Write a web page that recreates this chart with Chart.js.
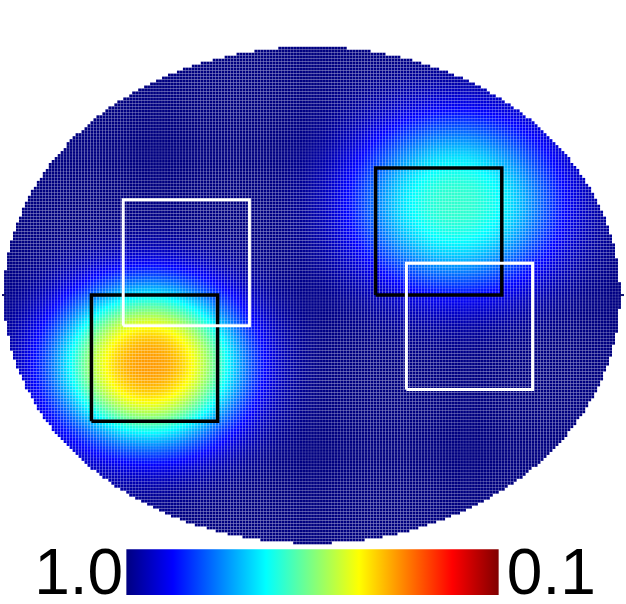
<!DOCTYPE html>
<html>
<head>
<meta charset="utf-8">
<script src="https://cdn.jsdelivr.net/npm/chart.js@4"></script>
<style>
  body { margin: 0; background: #fff; }
  #wrap { width: 626px; height: 604px; position: relative; }
</style>
</head>
<body>
<div id="wrap"><canvas id="myChart"></canvas></div>
<script>
// domain: ellipse with these half axes (data units)
const domainRx = 3.1;
const domainRy = 2.5;
const cellStep = 0.03;

// the two low spots (value at centre, on the 1.0 -> 0.1 bar)
const blobX = [-1.64, 1.45];
const blobY = [-0.70, 0.92];
const blobPeak = [0.35, 0.62];
const blobSpreadX = [0.66, 0.72];
const blobSpreadY = [0.57, 0.62];
const blobSharpness = 1.25;

// squares: [xmin, xmax, ymin, ymax]
const blackBoxes = [[-2.22, -0.95, -1.27, 0.0], [0.64, 1.91, 0.0, 1.28]];
const whiteBoxes = [[-1.90, -0.63, -0.31, 0.96], [0.95, 2.22, -0.95, 0.32]];

// colour bar
const barTicks = ['1.0', '0.1'];
const barX = [-1.87, 1.88];
const barY = [-2.56, -3.02];

function jet(t) {
    const c = v => Math.round(255 * Math.max(0, Math.min(1, v)));
    return `rgb(${c(1.5 - Math.abs(4 * t - 3))},${c(1.5 - Math.abs(4 * t - 2))},${c(1.5 - Math.abs(4 * t - 1))})`;
}

function valueAt(x, y) {
    let v = 1;
    for (let k = 0; k < blobX.length; k++) {
        const dx = (x - blobX[k]) / blobSpreadX[k];
        const dy = (y - blobY[k]) / blobSpreadY[k];
        v -= (1 - blobPeak[k]) * Math.exp(-Math.pow((dx * dx + dy * dy) / 2, blobSharpness));
    }
    return v;
}

const cells = [];
const cellColors = [];
const nx = Math.ceil(2 * domainRx / cellStep);
const ny = Math.ceil(2 * domainRy / cellStep);
for (let j = 0; j < ny; j++) {
    const y = domainRy - cellStep / 2 - j * cellStep;
    for (let i = 0; i < nx; i++) {
        const x = -domainRx + cellStep / 2 + i * cellStep;
        if ((x / domainRx) ** 2 + (y / domainRy) ** 2 > 1) continue;
        cells.push({ x, y });
        cellColors.push(jet((1 - valueAt(x, y)) / 0.9));
    }
}

function boxPath(b) {
    return [
        { x: b[0], y: b[2] }, { x: b[1], y: b[2] }, { x: b[1], y: b[3] },
        { x: b[0], y: b[3] }, { x: b[0], y: b[2] }
    ];
}

const boxSets = [];
blackBoxes.forEach(b => boxSets.push({
    data: boxPath(b), showLine: true, borderColor: '#000', borderWidth: 3.5,
    borderJoinStyle: 'miter', pointRadius: 0, order: 1
}));
whiteBoxes.forEach(b => boxSets.push({
    data: boxPath(b), showLine: true, borderColor: '#fff', borderWidth: 3,
    borderJoinStyle: 'miter', pointRadius: 0, order: 0
}));

function barGradient(c) {
    const x = c.chart.scales.x;
    const x0 = x ? x.getPixelForValue(barX[0]) : NaN;
    const x1 = x ? x.getPixelForValue(barX[1]) : NaN;
    if (!isFinite(x0) || !isFinite(x1)) return jet(0.5);
    const g = c.chart.ctx.createLinearGradient(x0, 0, x1, 0);
    [0, 1 / 8, 3 / 8, 5 / 8, 7 / 8, 1].forEach(t => g.addColorStop(t, jet(t)));
    return g;
}

const barLabels = {
    id: 'barLabels',
    afterDraw(chart) {
        const { ctx, scales } = chart;
        const left = scales.x.getPixelForValue(barX[0]);
        const right = scales.x.getPixelForValue(barX[1]);
        const base = scales.y.getPixelForValue(barY[1]) - 1;
        ctx.save();
        ctx.fillStyle = '#000';
        ctx.font = "64px 'Liberation Sans', Arial, sans-serif";
        ctx.textBaseline = 'alphabetic';
        ctx.textAlign = 'right';
        ctx.fillText(barTicks[0], left - 3, base);
        ctx.textAlign = 'left';
        ctx.fillText(barTicks[1], right + 8, base);
        ctx.restore();
    }
};

const ctx = document.getElementById('myChart').getContext('2d');
const myChart = new Chart(ctx, {
    type: 'scatter',
    data: {
        datasets: [
            ...boxSets,
            {
                type: 'line',
                data: [{ x: barX[0], y: barY[0] }, { x: barX[1], y: barY[0] }],
                borderWidth: 0,
                pointRadius: 0,
                fill: { value: barY[1] },
                backgroundColor: barGradient,
                order: 5
            },
            {
                data: cells,
                pointStyle: 'rect',
                pointRadius: 2.0,
                pointBorderWidth: 0,
                pointBackgroundColor: cellColors,
                pointHoverRadius: 0,
                order: 10
            },
            {
                data: [{ x: -3.12, y: 0 }, { x: -3.08, y: 0 }],
                showLine: true, borderColor: '#101070', borderWidth: 2, pointRadius: 0, order: 2
            },
            {
                data: [{ x: 3.1, y: 0 }, { x: 3.14, y: 0 }],
                showLine: true, borderColor: '#101070', borderWidth: 2, pointRadius: 0, order: 2
            }
        ]
    },
    options: {
        responsive: true,
        maintainAspectRatio: false,
        animation: false,
        events: [],
        layout: { padding: 0 },
        scales: {
            x: { type: 'linear', min: -3.12, max: 3.14, display: false },
            y: { type: 'linear', min: -3.09, max: 2.95, display: false }
        },
        plugins: { legend: { display: false }, tooltip: { enabled: false } }
    },
    plugins: [barLabels]
});
</script>
</body>
</html>
